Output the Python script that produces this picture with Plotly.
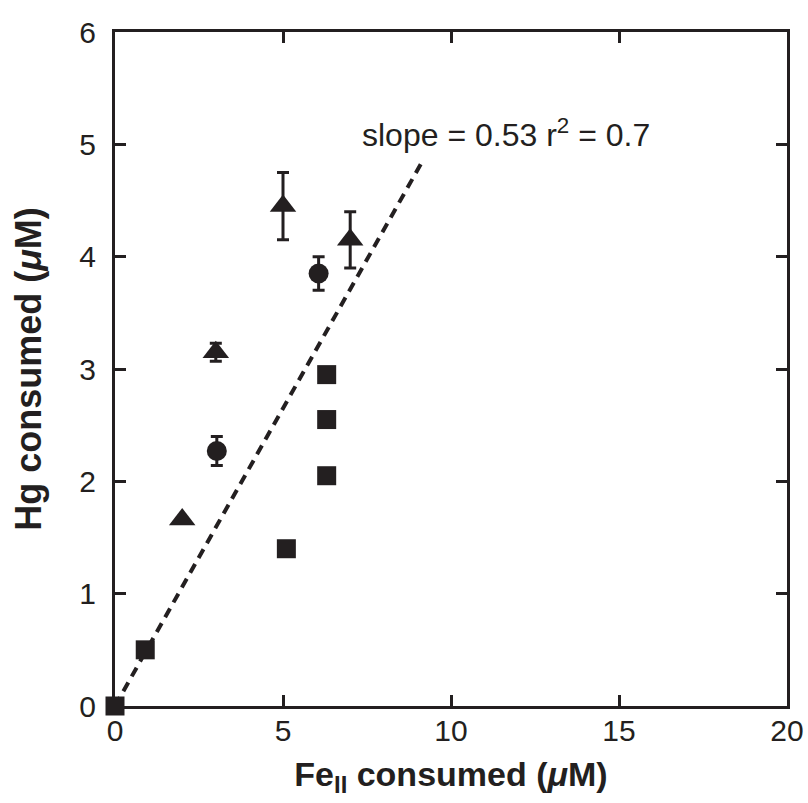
import plotly.graph_objects as go

# Squares (no error bars)
sq_x = [0, 0.9, 5.1, 6.3, 6.3, 6.3]
sq_y = [0, 0.5, 1.4, 2.05, 2.55, 2.95]

# Triangles
tri_x = [2, 3, 5, 7]
tri_y = [1.66, 3.15, 4.45, 4.15]
tri_err = [0, 0.08, 0.3, 0.25]

# Circles
cir_x = [3.03, 6.06]
cir_y = [2.27, 3.85]
cir_err = [0.13, 0.15]

# Fit line
fit_slope = 0.53
fit_x = [0, 9.2]
fit_y = [fit_slope * v for v in fit_x]

x_ticks = [0, 5, 10, 15, 20]
y_ticks = [0, 1, 2, 3, 4, 5, 6]

black = "#231f20"
FONT = "Liberation Sans, Arial, sans-serif"
fig = go.Figure()

fig.add_trace(go.Scatter(x=fit_x, y=fit_y, mode="lines",
                         line=dict(color=black, width=4, dash="10px,7px"),
                         showlegend=False, cliponaxis=False))

fig.add_trace(go.Scatter(x=tri_x, y=tri_y, mode="markers",
                         marker=dict(symbol="triangle-up", size=23, color=black),
                         error_y=dict(type="data", array=tri_err, color=black, thickness=3, width=6),
                         showlegend=False, cliponaxis=False))

fig.add_trace(go.Scatter(x=cir_x, y=cir_y, mode="markers",
                         marker=dict(symbol="circle", size=20, color=black),
                         error_y=dict(type="data", array=cir_err, color=black, thickness=3, width=6),
                         showlegend=False, cliponaxis=False))

fig.add_trace(go.Scatter(x=sq_x, y=sq_y, mode="markers",
                         marker=dict(symbol="square", size=19, color=black),
                         showlegend=False, cliponaxis=False))

fig.add_annotation(x=7.3, y=5.1, xref="x", yref="y", xanchor="left", yanchor="middle",
                   text="slope = 0.53 r<sup>2</sup> = 0.7", showarrow=False,
                   font=dict(size=32, color=black, family=FONT))

axis_common = dict(showline=True, linecolor=black, linewidth=3, mirror="ticks",
                   ticks="inside", ticklen=11, tickwidth=2.5, tickcolor=black,
                   showgrid=False, zeroline=False,
                   tickfont=dict(size=30, color=black, family=FONT))

fig.update_xaxes(range=[0, 20], tickvals=x_ticks, ticktext=[str(v) for v in x_ticks],
                 ticklabelstandoff=-4,
                 title=dict(text="<b>Fe<sub>II</sub> consumed (<i>μ</i>M)</b>",
                            font=dict(size=34, color=black, family=FONT),
                            standoff=17),
                 **axis_common)
fig.update_yaxes(range=[0, 6], tickvals=y_ticks, ticktext=[str(v) for v in y_ticks],
                 ticklabelstandoff=10,
                 title=dict(text="<b>Hg consumed (<i>μ</i>M)</b>",
                            font=dict(size=36, color=black, family=FONT),
                            standoff=27),
                 **axis_common)

fig.update_layout(width=808, height=803,
                  margin=dict(l=115, r=21, t=32, b=97, autoexpand=False),
                  plot_bgcolor="white", paper_bgcolor="white")

fig.write_html("out.html", config={"displayModeBar": False},
               post_script="document.body.style.margin='0';")
